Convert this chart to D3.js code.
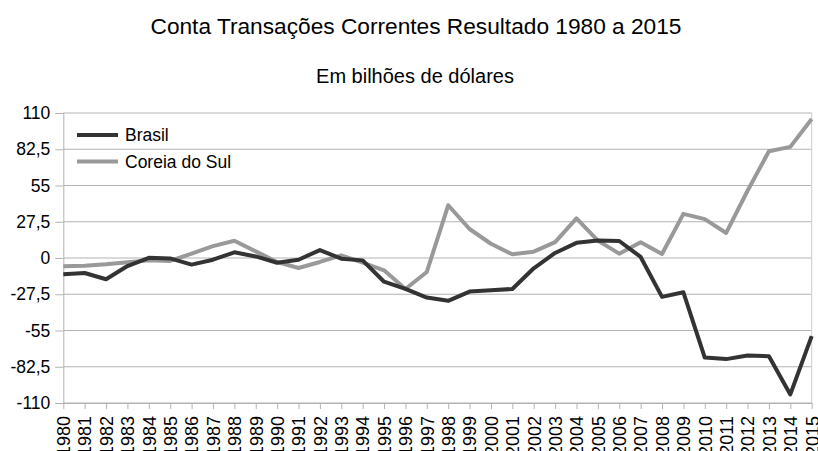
<html>
  <head>
    <script src="https://d3js.org/d3.v7.min.js"></script>
    <style>
      body { margin: 0; background: #fff; }
      text { font-family: "Liberation Sans", Arial, sans-serif; fill: #000; }
    </style>
  </head>
  <body>
    <svg id="chart" width="818" height="451"></svg>
    <script>
      const years = d3.range(1980, 2016);
      const brasil = [
        -12.4, -11.4, -16.1, -6.1, 0.1, -0.3, -5.0, -1.3, 4.3, 1.2,
        -3.6, -1.3, 6.0, -0.5, -1.8, -18.0, -23.5, -30.0, -32.5, -25.5,
        -24.5, -23.5, -7.8, 3.8, 11.5, 13.2, 12.9, 0.8, -29.5, -26.0,
        -75.5, -76.7, -74.0, -74.5, -103.5, -59.3
      ];
      const coreia = [
        -6.3, -5.8, -4.8, -3.3, -1.8, -2.2, 3.3, 9.0, 13.1, 5.0,
        -3.0, -7.6, -3.0, 2.0, -3.5, -9.3, -23.5, -10.6, 40.0, 22.0,
        10.8, 2.8, 4.8, 12.0, 30.0, 13.2, 3.3, 12.0, 3.0, 33.5,
        29.5, 19.0, 51.0, 81.0, 84.3, 105.5
      ];
      const yTicks = [110, 82.5, 55, 27.5, 0, -27.5, -55, -82.5, -110];
      const series = [
        { name: "Brasil", values: brasil, color: "#333333" },
        { name: "Coreia do Sul", values: coreia, color: "#999999" }
      ];

      const svg = d3.select("#chart");
      const plotLeft = 63.3, plotRight = 811.7, plotTop = 113, plotBottom = 403;

      const x = d3.scaleLinear().domain([1980, 2015]).range([plotLeft, plotRight]);
      const y = d3.scaleLinear().domain([-110, 110]).range([plotBottom, plotTop]);
      const fmt = (d) => String(d).replace(".", ",");

      svg.append("text")
        .attr("x", 416).attr("y", 34)
        .attr("text-anchor", "middle")
        .style("font-size", "22.7px")
        .text("Conta Transações Correntes Resultado 1980 a 2015");
      svg.append("text")
        .attr("x", 415).attr("y", 83)
        .attr("text-anchor", "middle")
        .style("font-size", "20px")
        .text("Em bilhões de dólares");

      // grid
      svg.append("g")
        .selectAll("line")
        .data(yTicks)
        .enter()
        .append("line")
        .attr("x1", plotLeft).attr("x2", plotRight)
        .attr("y1", (d) => y(d)).attr("y2", (d) => y(d))
        .attr("stroke", "#b3b3b3").attr("stroke-width", 1);

      svg.append("line")
        .attr("x1", plotRight).attr("x2", plotRight)
        .attr("y1", plotTop).attr("y2", plotBottom)
        .attr("stroke", "#cccccc");

      const yAxis = svg.append("g")
        .attr("transform", `translate(${plotLeft},0)`)
        .call(d3.axisLeft(y).tickValues(yTicks).tickFormat(fmt).tickSize(8).tickPadding(5));
      yAxis.select(".domain").attr("stroke", "#b3b3b3");
      yAxis.selectAll(".tick line").attr("stroke", "#b3b3b3");
      yAxis.selectAll("text").style("font-size", "17.5px").attr("fill", "#000");

      const xAxis = svg.append("g")
        .attr("transform", `translate(0,${plotBottom})`)
        .call(d3.axisBottom(x).tickValues(years).tickFormat(d3.format("d")).tickSize(6).tickSizeOuter(0));
      xAxis.select(".domain").attr("stroke", "#b3b3b3");
      xAxis.selectAll(".tick line").attr("stroke", "#b3b3b3");
      xAxis.selectAll("text")
        .style("font-size", "18px")
        .attr("fill", "#000")
        .attr("text-anchor", "end")
        .attr("dy", "0.35em")
        .attr("transform", "translate(0,13) rotate(-90)")
        .attr("x", 0).attr("y", 0);

      const line = d3.line()
        .x((d, i) => x(years[i]))
        .y((d) => y(d));

      svg.append("g")
        .selectAll("path")
        .data(series.slice().reverse())
        .enter()
        .append("path")
        .attr("d", (d) => line(d.values))
        .attr("fill", "none")
        .attr("stroke", (d) => d.color)
        .attr("stroke-width", 4)
        .attr("stroke-linejoin", "round");

      const legend = svg.append("g")
        .selectAll("g")
        .data(series)
        .enter()
        .append("g")
        .attr("transform", (d, i) => `translate(77,${135 + i * 26.5})`);
      legend.append("line")
        .attr("x1", 0).attr("x2", 41)
        .attr("stroke", (d) => d.color)
        .attr("stroke-width", 4);
      legend.append("text")
        .attr("x", 48).attr("dy", "0.35em")
        .style("font-size", "17.5px")
        .text((d) => d.name);
    </script>
  </body>
</html>
